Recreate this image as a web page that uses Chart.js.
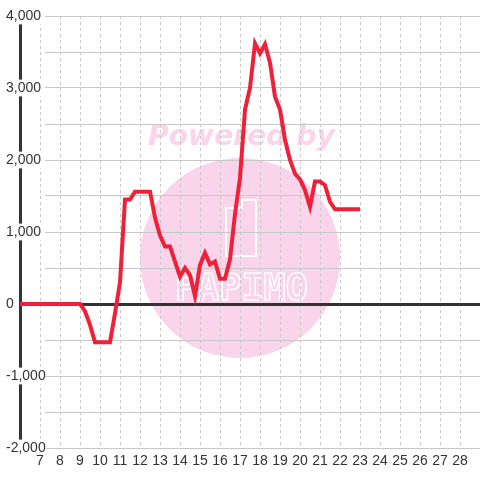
<!DOCTYPE html>
<html>
<head>
<meta charset="utf-8">
<script src="https://cdn.jsdelivr.net/npm/chart.js@4"></script>
<style>
  html, body { margin: 0; padding: 0; background: #fff; }
  #wrap { width: 480px; height: 480px; }
</style>
</head>
<body>
<div id="wrap"><canvas id="chart" width="480" height="480"></canvas></div>
<script>
// Data (hour of day -> value)
const hours = [6, 7, 8, 9, 9.25, 9.5, 9.75, 10, 10.25, 10.5, 10.75, 11, 11.25, 11.5, 11.75,
    12, 12.25, 12.5, 12.75, 13, 13.25, 13.5, 13.75, 14, 14.25, 14.5, 14.75,
    15, 15.25, 15.5, 15.75, 16, 16.25, 16.5, 16.75, 17, 17.25, 17.5, 17.75,
    18, 18.25, 18.5, 18.75, 19, 19.25, 19.5, 19.75, 20, 20.25, 20.5, 20.75,
    21, 21.25, 21.5, 21.75, 22, 22.25, 22.5, 22.75, 23];
const values = [0, 0, 0, 0, -100, -290, -530, -530, -530, -530, -130, 300, 1450, 1450, 1560,
    1560, 1560, 1560, 1200, 950, 800, 800, 590, 380, 500, 400, 110,
    540, 710, 550, 590, 350, 350, 620, 1250, 1750, 2700, 3000, 3620,
    3480, 3610, 3350, 2880, 2700, 2280, 2000, 1810, 1730, 1580, 1350, 1700,
    1700, 1650, 1420, 1315, 1315, 1315, 1315, 1315, 1315];
const xMin = 6, xMax = 29;
const yMin = -2000, yMax = 4000, yStep = 500;

const points = hours.map((h, i) => ({ x: h, y: values[i] }));
const labelFont = { family: '"Liberation Sans", Arial, sans-serif', size: 14 };

let gridGrad = null;
function getGridGrad(chart) {
    if (!gridGrad) {
        gridGrad = chart.ctx.createLinearGradient(0, 0, 480, 0);
        gridGrad.addColorStop(0, 'rgba(200,200,200,0)');
        gridGrad.addColorStop(45 / 480, 'rgba(200,200,200,0)');
        gridGrad.addColorStop(45 / 480, '#c8c8c8');
        gridGrad.addColorStop(1, '#c8c8c8');
    }
    return gridGrad;
}

// Watermark behind the grid
const watermark = {
    id: 'watermark',
    beforeDraw(chart) {
        const ctx = chart.ctx;
        ctx.save();
        ctx.fillStyle = '#fad4ea';
        ctx.beginPath();
        ctx.arc(240, 258, 100, 0, Math.PI * 2);
        ctx.fill();

        ctx.font = 'italic bold 28px "DejaVu Sans"';
        let w = ctx.measureText('Powered by').width;
        ctx.font = `italic bold ${28 * 187 / w}px "DejaVu Sans"`;
        ctx.textAlign = 'left';
        ctx.textBaseline = 'alphabetic';
        ctx.fillText('Powered by', 148, 145);

        ctx.strokeStyle = '#fff';
        ctx.lineWidth = 2;
        ctx.beginPath();
        ctx.moveTo(226, 208);
        ctx.lineTo(242, 208);
        ctx.lineTo(242, 200);
        ctx.lineTo(256, 200);
        ctx.lineTo(256, 256);
        ctx.lineTo(226, 256);
        ctx.closePath();
        ctx.stroke();

        ctx.font = 'bold 30px "DejaVu Sans Mono"';
        w = ctx.measureText('PAPIMO').width;
        ctx.font = `bold ${30 * 133 / w}px "DejaVu Sans Mono"`;
        ctx.lineWidth = 1.5;
        ctx.strokeText('PAPIMO', 175, 300);
        ctx.restore();
    }
};

const ctx = document.getElementById('chart').getContext('2d');
new Chart(ctx, {
    type: 'line',
    data: {
        datasets: [{
            data: points,
            borderColor: '#ef2139',
            borderWidth: 4,
            pointRadius: 0,
            tension: 0,
            fill: false
        }]
    },
    options: {
        responsive: false,
        animation: false,
        layout: { padding: { left: 5, top: 16, right: 0, bottom: 6 } },
        plugins: { legend: { display: false }, tooltip: { enabled: false } },
        scales: {
            x: {
                type: 'linear',
                min: xMin,
                max: xMax,
                ticks: {
                    stepSize: 1,
                    autoSkip: false,
                    maxRotation: 0,
                    padding: 0,
                    z: 1,
                    color: '#333',
                    font: { family: labelFont.family, size: 14, lineHeight: '26px' },
                    callback: v => (v >= 7 && v <= 28) ? String(v) : ''
                },
                grid: {
                    drawTicks: false,
                    color: c => (c.tick && (c.tick.value === xMin || c.tick.value === xMax)) ? 'rgba(0,0,0,0)' : '#c8c8c8',
                    lineWidth: 1
                },
                border: { color: '#c8c8c8', width: 1, dash: [3, 3] }
            },
            y: {
                min: yMin,
                max: yMax,
                afterFit: s => { s.width = 15; },
                ticks: {
                    stepSize: yStep,
                    autoSkip: false,
                    mirror: true,
                    crossAlign: 'near',
                    padding: -14,
                    color: '#333',
                    font: labelFont,
                    showLabelBackdrop: true,
                    backdropColor: c => (c.tick && c.tick.value % 1000 === 0) ? '#fff' : 'rgba(0,0,0,0)',
                    backdropPadding: 0,
                    callback: v => v % 1000 === 0 ? v.toLocaleString('en-US') : ''
                },
                grid: {
                    drawTicks: false,
                    color: c => (c.tick && c.tick.value === 0) ? '#333' : getGridGrad(c.chart),
                    lineWidth: c => (c.tick && c.tick.value === 0) ? 3 : 1
                },
                border: { color: '#333', width: 3 }
            }
        }
    },
    plugins: [watermark]
});
</script>
</body>
</html>
